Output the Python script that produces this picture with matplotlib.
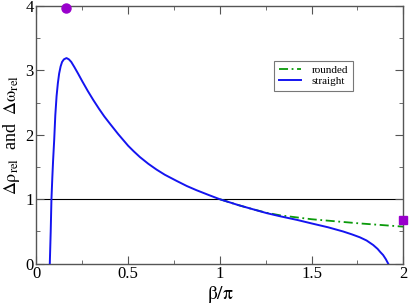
import matplotlib

matplotlib.use("Agg")
import matplotlib.pyplot as plt
from matplotlib.ticker import MultipleLocator

plt.rcParams["font.family"] = ["Liberation Serif", "DejaVu Serif"]
plt.rcParams["mathtext.fontset"] = "stix"

# straight curve
straight_x = [0.073, 0.078, 0.082, 0.087, 0.091, 0.097, 0.103, 0.11, 0.117, 0.124,
              0.132, 0.14, 0.15, 0.164, 0.177, 0.19, 0.207, 0.227, 0.25, 0.28,
              0.31, 0.342, 0.37, 0.40, 0.446, 0.50, 0.53, 0.564, 0.61, 0.655,
              0.70, 0.764, 0.82, 0.873, 0.94, 1.0, 1.1, 1.18, 1.255, 1.33,
              1.42, 1.5, 1.59, 1.672, 1.72, 1.763, 1.80, 1.836, 1.86, 1.875,
              1.89, 1.905, 1.918]
straight_y = [0.0, 0.5, 1.0, 1.35, 1.6, 1.92, 2.3, 2.6, 2.8, 2.95,
              3.06, 3.13, 3.17, 3.19, 3.17, 3.13, 3.05, 2.95, 2.83, 2.68,
              2.54, 2.40, 2.285, 2.175, 2.01, 1.83, 1.745, 1.655, 1.55, 1.46,
              1.38, 1.285, 1.205, 1.14, 1.065, 1.0, 0.91, 0.845, 0.785, 0.735,
              0.68, 0.625, 0.565, 0.50, 0.455, 0.41, 0.36, 0.29, 0.23, 0.18,
              0.135, 0.07, 0.0]

# rounded curve (only differs from straight beyond ~1.1)
rounded_x = [1.0, 1.1, 1.18, 1.255, 1.33, 1.5, 1.763, 2.0]
rounded_y = [1.0, 0.91, 0.845, 0.79, 0.75, 0.69, 0.625, 0.575]

circle_pt = (0.16, 3.97)
square_pt = (2.0, 0.68)

fig = plt.figure(figsize=(4.09, 3.07), dpi=100)
ax = fig.add_axes([0.089, 0.141, 0.897, 0.840])

ax.axhline(1.0, color="black", lw=0.8, zorder=1)
ax.plot(rounded_x, rounded_y, color="#0a9a0a", lw=1.3, ls=(0, (5, 2, 1, 2)),
        label="rounded", zorder=2)
ax.plot(straight_x, straight_y, color="#1414f0", lw=1.4, label="straight", zorder=3)
ax.plot(*circle_pt, "o", color="#9900cc", ms=6.5, clip_on=False, zorder=5)
ax.plot(*square_pt, "s", color="#9900cc", ms=6, clip_on=False, zorder=5)

ax.set_xlim(0, 2)
ax.set_ylim(0, 4)
ax.xaxis.set_major_locator(MultipleLocator(0.5))
ax.xaxis.set_minor_locator(MultipleLocator(0.25))
ax.yaxis.set_major_locator(MultipleLocator(1))
ax.yaxis.set_minor_locator(MultipleLocator(0.5))
ax.set_xticks([0, 0.5, 1, 1.5, 2], ["0", "0.5", "1", "1.5", "2"])
ax.tick_params(which="both", direction="in", top=True, right=True,
               color="#555555", labelsize=12, pad=2)
ax.tick_params(which="major", length=6)
ax.tick_params(which="minor", length=3)
for s in ax.spines.values():
    s.set_color("#555555")
    s.set_linewidth(1.0)

ax.set_xlabel(r"$\mathrm{β/π}$", fontsize=14, labelpad=1)
ax.set_ylabel(r"$\mathrm{Δρ}_{\rm rel}$  and  $\mathrm{Δω}_{\rm rel}$",
              fontsize=13, labelpad=2)

leg = ax.legend(loc="upper left", bbox_to_anchor=(0.648, 0.786), borderaxespad=0,
                fontsize=8, frameon=True, fancybox=False, handlelength=2.0,
                borderpad=0.4, labelspacing=0.1, handletextpad=1.0)
leg.get_frame().set_edgecolor("#555555")
leg.get_frame().set_linewidth(0.8)

fig.savefig("out.png", dpi=100)
